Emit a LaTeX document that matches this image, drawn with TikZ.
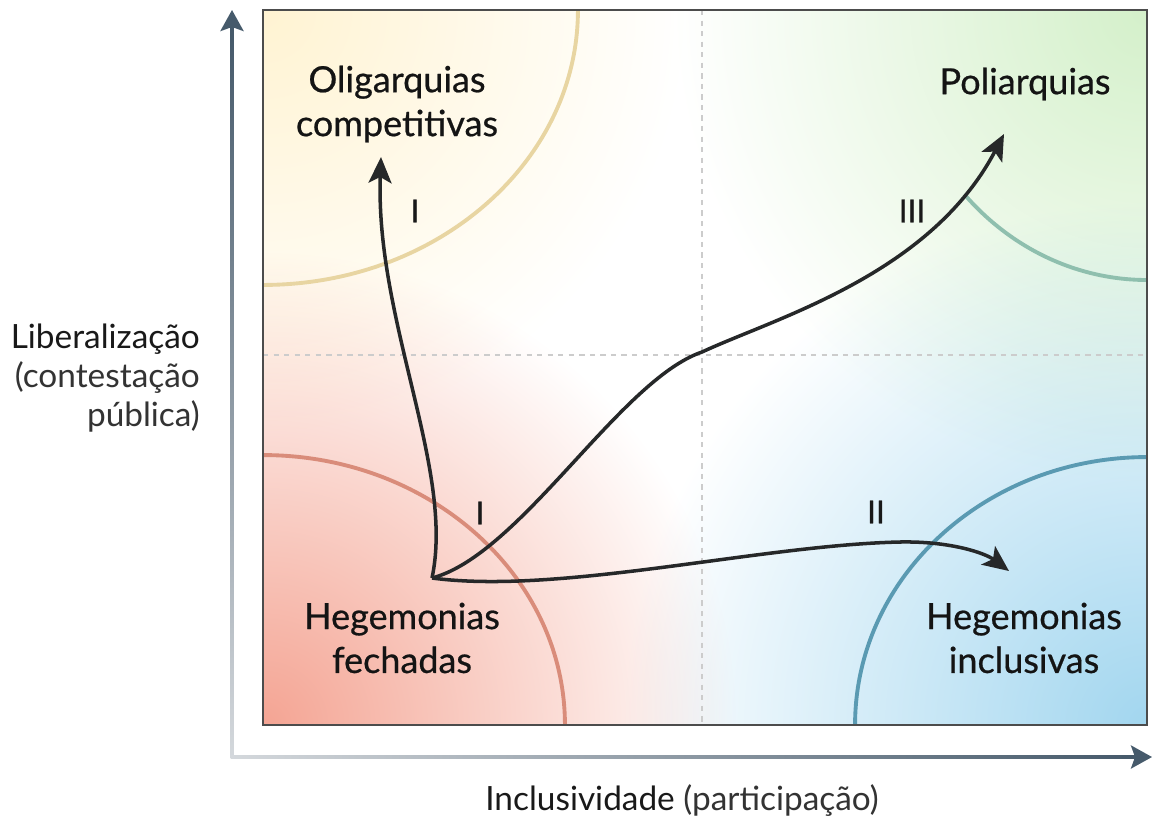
\documentclass[tikz,border=0pt]{standalone}
\usepackage{fontspec}
\setmainfont{Lato}
\newfontfamily\labfont[FakeBold=0.6]{Lato}
\usepackage{xcolor}
\usetikzlibrary{arrows.meta,positioning}
\definecolor{tlcol}{HTML}{FFF3D2}
\definecolor{trcol}{HTML}{D4F0CA}
\definecolor{blcol}{HTML}{F4A493}
\definecolor{brcol}{HTML}{A2D6EF}
\definecolor{tlarc}{HTML}{E8D5A2}
\definecolor{trarc}{HTML}{8FBFAE}
\definecolor{blarc}{HTML}{D98C7A}
\definecolor{brarc}{HTML}{5A9AB2}
\definecolor{axisdark}{HTML}{465A6B}
\definecolor{axislight}{HTML}{D4D8DC}
\definecolor{pathdark}{HTML}{262829}
\tikzset{
  quadlabel/.style={
      font=\labfont\fontsize{20.5}{25}\selectfont,
      align=center,
      text=black!92
    },
  numlabel/.style={
      font=\labfont\fontsize{18}{21}\selectfont,
      text=black!90
    },
  axislabel/.style={
      font=\fontsize{19}{22}\selectfont,
      text=black!90
    },
  patharrow/.style={
      draw=pathdark,
      line width=2pt,
      -{Stealth[length=0.52cm,width=0.46cm,inset=0.12cm]}
    },
  axisarrow/.style={
      draw=axisdark,
      line width=2pt,
      -{Stealth[length=0.42cm,width=0.46cm,inset=0.08cm]}
    },
  quadarc/.style={line width=2.2pt},
  midline/.style={draw=black!20, dashed, line width=0.6pt}
}

\begin{document}
\begin{tikzpicture}[x=0.02cm, y=-0.02cm]
\useasboundingbox (0,0) rectangle (1158,818);

% the backgrounds
\begin{scope}
  \clip (263,10) rectangle (1147,725);
  \begin{scope}[blend group=multiply]
    \shade[inner color=tlcol, outer color=white] (263,10) circle[radius=8.5cm];
    \shade[inner color=trcol, outer color=white] (1147,10) circle[radius=9.5cm];
    \shade[inner color=blcol, outer color=white] (263,725) circle[radius=9.5cm];
    \shade[inner color=brcol, outer color=white] (1147,725) circle[radius=10.5cm];
  \end{scope}
\end{scope}

% the arcs
\begin{scope}
  \clip (263,10) rectangle (1147,725);
  \draw[quadarc, tlarc] (263,10) ellipse[x radius=6.3cm, y radius=5.5cm];
  \draw[quadarc, blarc] (263,725) ellipse[x radius=6.04cm, y radius=5.4cm];
  \draw[quadarc, brarc] (1147,725) ellipse[x radius=5.84cm, y radius=5.36cm];
  \draw[quadarc, trarc] (1147,280) arc[start angle=-90, end angle=-137, x radius=5cm, y radius=5.4cm];
\end{scope}
\draw[midline] (702,10) -- (702,725);
\draw[midline] (263,355) -- (1147,355);
\draw[black!70, line width=0.9pt] (263,10) rectangle (1147,725);

% the axes
\coordinate (orig) at (232,757);
\coordinate (ytip) at (232,10);
\coordinate (xtip) at (1152,757);
\shade[bottom color=axislight, top color=axisdark] (230.5,757) rectangle (233.5,34);
\shade[left color=axislight, right color=axisdark] (230.5,755.5) rectangle (1130,758.5);
\draw[axisarrow] ([yshift=-0.6cm]ytip) -- (ytip);
\draw[axisarrow] ([xshift=-0.6cm]xtip) -- (xtip);

\node[axislabel, anchor=east, align=right] (ylab) at (206,378)
  {Liberalização\\{\color{black!80}(contestação}\\{\color{black!80}pública)}};
\node[axislabel] (xlab) at (682,801)
  {Inclusividade {\color{black!80}(participação)}};

% the regions
\node[quadlabel] (olig) at (397,104) {Oligarquias\\competitivas};
\node[quadlabel] (poli) at (1025,84) {Poliarquias};
\node[quadlabel] (hfech) at (402,638) {Hegemonias\\fechadas};
\node[quadlabel] (hincl) at (1024,638) {Hegemonias\\inclusivas};

%the paths
\coordinate (start) at (432,578);
\coordinate (olig-tip) at (381,157);
\coordinate (poli-tip) at (1004,134);
\coordinate (hincl-tip) at (1009,571);
\draw[patharrow]
  (start) .. controls (455,470) and (375,320) .. (olig-tip);
\draw[patharrow]
  (start) .. controls (520,555) and (620,380) .. (702,352)
          .. controls (775,318) and (930,275) .. (poli-tip);
\draw[patharrow]
  (start) .. controls (560,595) and (760,545) .. (900,542)
          .. controls (950,541) and (985,553) .. (hincl-tip);

\node[numlabel] (n1a) at (415,211) {I};
\node[numlabel] (n3) at (912,211) {III};
\node[numlabel] (n1b) at (480,513) {I};
\node[numlabel] (n2) at (876,512) {II};
\end{tikzpicture}
\end{document}
